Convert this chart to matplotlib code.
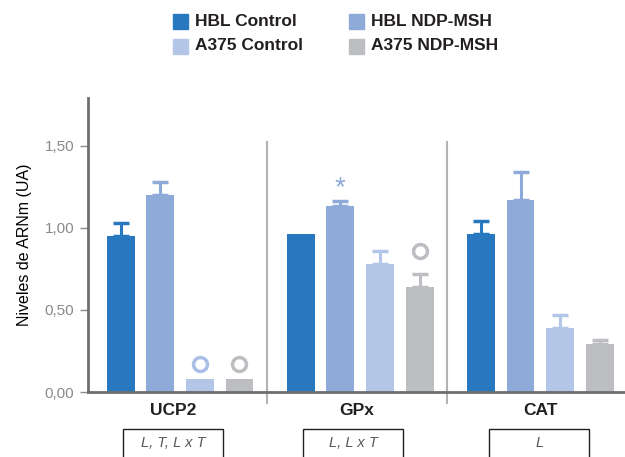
import matplotlib.pyplot as plt
from matplotlib.patches import Rectangle
import numpy as np

plt.rcParams['font.family'] = ['Liberation Sans', 'DejaVu Sans']

# data
genes = ['UCP2', 'GPx', 'CAT']
series = ['HBL Control', 'HBL NDP-MSH', 'A375 Control', 'A375 NDP-MSH']
colors = ['#2878C0', '#8EAAD8', '#B4C6E7', '#BDBEC2']
values = [
    [0.95, 0.96, 0.96],   # HBL Control
    [1.20, 1.13, 1.17],   # HBL NDP-MSH
    [0.08, 0.78, 0.39],   # A375 Control
    [0.08, 0.64, 0.29],   # A375 NDP-MSH
]
errors = [
    [0.08, 0.0, 0.08],
    [0.08, 0.03, 0.17],
    [0.0, 0.08, 0.08],
    [0.0, 0.08, 0.025],
]
stats = ['L, T, L x T', 'L, L x T', 'L']
# markers: (gene index, series index, y, symbol)
marks = [(0, 2, 0.17, 'o'), (0, 3, 0.17, 'o'), (1, 1, 1.28, '*'), (1, 3, 0.86, 'o')]

fig = plt.figure(figsize=(6.25, 4.57), dpi=100)
ax = fig.add_axes([88/625, 1-392/457, 1-88/625, (392-98)/457])

x = np.arange(len(genes))
step = 0.22
width = 0.155
for i in range(len(series)):
    xs = x + (i - 1.5) * step
    ax.bar(xs, values[i], width, color=colors[i], zorder=2)
    for j in range(len(genes)):
        if errors[i][j] > 0:
            ax.errorbar(xs[j], values[i][j], yerr=[[0], [errors[i][j]]], fmt='none',
                        ecolor=colors[i], elinewidth=2.2, capsize=5.5, capthick=2.5, zorder=3)

for g, s, yv, sym in marks:
    xp = x[g] + (s - 1.5) * step
    c = colors[s] if s != 2 else '#A9BFE6'
    if sym == 'o':
        ax.plot(xp, yv, 'o', ms=10, mfc='white', mec=c, mew=2.5, zorder=4)
    else:
        ax.text(xp, yv - 0.04, '*', color=c, fontsize=20, ha='center', va='center', zorder=4)

ax.set_xlim(-0.511, 2.47)
ax.set_ylim(0, 1.79)
ax.set_yticks([0, 0.5, 1.0, 1.5])
ax.set_yticklabels(['0,00', '0,50', '1,00', '1,50'], color='#8A8A8A', fontsize=11)
ax.tick_params(axis='y', direction='out', length=6, width=1, color='#8A8A8A', pad=4)
ax.set_xticks([])
ax.set_ylabel('Niveles de ARNm (UA)', fontsize=11.5, color='#000000', labelpad=9)

for sp in ['top', 'right']:
    ax.spines[sp].set_visible(False)
ax.spines['left'].set_color('#6D6E71')
ax.spines['left'].set_linewidth(2)
ax.spines['bottom'].set_color('#6D6E71')
ax.spines['bottom'].set_linewidth(2)

# group separators
for sx in [0.48, 1.48]:
    ax.plot([sx, sx], [-0.07, 1.52], color='#B3B3B3', lw=1.5, clip_on=False, zorder=1)

# gene labels and stat boxes
label_x = [-0.039, 0.983, 2.0]
box_x = [-0.039, 0.961, 1.994]
for j, g in enumerate(genes):
    ax.text(label_x[j], -0.11, g, ha='center', va='center',
            fontsize=12.5, fontweight='bold', color='#231F20')
    ax.text(box_x[j], -0.31, stats[j], ha='center', va='center',
            fontsize=10.5, style='italic', color='#58595B')
    bw = 0.556
    ax.add_patch(Rectangle((box_x[j] - bw/2, -0.45), bw, 0.226, fill=False,
                           ec='#231F20', lw=1, clip_on=False))

# legend
leg_pos = [(173, 21), (349, 21), (173, 46), (349, 46)]
for i, (px, py) in enumerate(leg_pos):
    fig.patches.append(Rectangle((px/625, 1-(py+8)/457), 15/625, 15/457,
                                 color=colors[i], transform=fig.transFigure))
    fig.text((px+22)/625, 1-py/457, series[i], fontsize=12.5, fontweight='bold',
             color='#231F20', va='center', ha='left')

fig.savefig('out.png', dpi=100)
